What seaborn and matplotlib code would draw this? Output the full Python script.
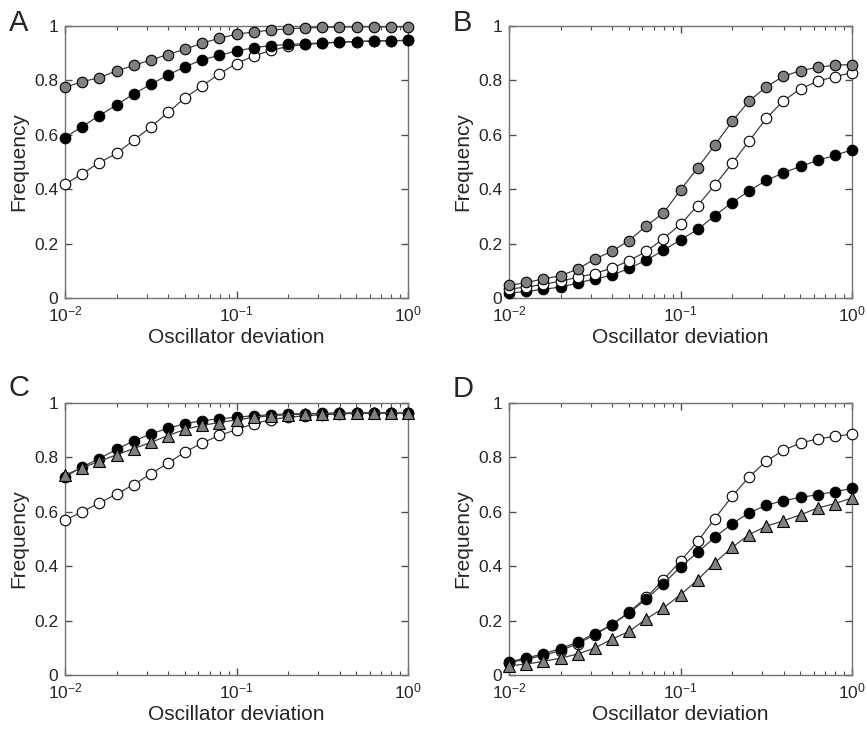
import matplotlib
matplotlib.use("Agg")
import matplotlib.pyplot as plt
import seaborn as sns
import pandas as pd

# oscillator deviation grid (log spaced, 10 points per decade)
DEVIATION = [0.01, 0.0126, 0.0158, 0.02, 0.0251, 0.0316, 0.0398, 0.0501, 0.0631, 0.0794,
             0.1, 0.126, 0.158, 0.2, 0.251, 0.316, 0.398, 0.501, 0.631, 0.794, 1.0]

# panel A
A_GRAY = [0.775, 0.795, 0.81, 0.835, 0.855, 0.875, 0.895, 0.915, 0.937, 0.955, 0.97,
          0.978, 0.985, 0.99, 0.993, 0.995, 0.996, 0.997, 0.997, 0.997, 0.997]
A_BLACK = [0.59, 0.63, 0.67, 0.71, 0.75, 0.785, 0.82, 0.85, 0.876, 0.892, 0.908,
           0.92, 0.928, 0.932, 0.935, 0.938, 0.941, 0.943, 0.945, 0.946, 0.947]
A_OPEN = [0.418, 0.457, 0.497, 0.532, 0.58, 0.628, 0.682, 0.736, 0.78, 0.824, 0.862,
          0.89, 0.91, 0.925, 0.932, 0.937, 0.94, 0.943, 0.945, 0.946, 0.947]

# panel B
B_GRAY = [0.046, 0.057, 0.07, 0.082, 0.106, 0.143, 0.172, 0.211, 0.265, 0.312, 0.397,
          0.479, 0.561, 0.649, 0.724, 0.776, 0.815, 0.836, 0.848, 0.856, 0.858]
B_OPEN = [0.033, 0.04, 0.05, 0.062, 0.076, 0.09, 0.11, 0.137, 0.171, 0.218, 0.271,
          0.34, 0.414, 0.495, 0.577, 0.66, 0.725, 0.769, 0.797, 0.814, 0.828]
B_BLACK = [0.018, 0.024, 0.032, 0.04, 0.055, 0.07, 0.084, 0.109, 0.139, 0.175, 0.214,
           0.252, 0.302, 0.351, 0.394, 0.432, 0.46, 0.484, 0.506, 0.524, 0.545]

# panel C
C_BLACK = [0.728, 0.765, 0.795, 0.83, 0.86, 0.886, 0.907, 0.924, 0.935, 0.942, 0.948,
           0.953, 0.957, 0.96, 0.961, 0.962, 0.963, 0.963, 0.964, 0.964, 0.964]
C_TRI = [0.735, 0.762, 0.785, 0.81, 0.832, 0.855, 0.88, 0.903, 0.918, 0.928, 0.938,
         0.947, 0.953, 0.957, 0.96, 0.961, 0.962, 0.963, 0.963, 0.964, 0.964]
C_OPEN = [0.569, 0.6, 0.632, 0.665, 0.7, 0.739, 0.779, 0.82, 0.853, 0.881, 0.902,
          0.924, 0.939, 0.948, 0.953, 0.957, 0.96, 0.962, 0.963, 0.964, 0.964]

# panel D
D_OPEN = [0.045, 0.058, 0.072, 0.09, 0.115, 0.148, 0.185, 0.232, 0.285, 0.35, 0.419,
          0.491, 0.574, 0.657, 0.728, 0.786, 0.826, 0.853, 0.868, 0.877, 0.886]
D_BLACK = [0.049, 0.062, 0.078, 0.097, 0.121, 0.152, 0.185, 0.228, 0.279, 0.336, 0.397,
           0.451, 0.506, 0.556, 0.596, 0.624, 0.641, 0.653, 0.663, 0.674, 0.686]
D_TRI = [0.034, 0.04, 0.05, 0.062, 0.077, 0.099, 0.132, 0.16, 0.206, 0.246, 0.295,
         0.35, 0.412, 0.469, 0.516, 0.547, 0.567, 0.589, 0.614, 0.63, 0.651]

YTICKS = [0, 0.2, 0.4, 0.6, 0.8, 1]
YTICKLABELS = ["0", "0.2", "0.4", "0.6", "0.8", "1"]

GRAY = "#808080"
STYLES = {
    "gray": dict(marker="o", markerfacecolor=GRAY, markersize=7.6),
    "black": dict(marker="o", markerfacecolor="black", markersize=7.6),
    "open": dict(marker="o", markerfacecolor="white", markersize=7.6),
    "tri": dict(marker="^", markerfacecolor=GRAY, markersize=8.5),
}

sns.set_style("ticks")
plt.rcParams["font.family"] = ["Liberation Sans", "DejaVu Sans"]
plt.rcParams["mathtext.default"] = "regular"

fig = plt.figure(figsize=(8.67, 7.32), dpi=100)
W, H = 343 / 867, 272 / 732
positions = {
    "A": [65 / 867, 1 - 298 / 732, W, H],
    "B": [509 / 867, 1 - 298 / 732, W, H],
    "C": [65 / 867, 1 - 675 / 732, W, H],
    "D": [509 / 867, 1 - 675 / 732, W, H],
}
panels = {
    "A": [("open", A_OPEN), ("black", A_BLACK), ("gray", A_GRAY)],
    "B": [("black", B_BLACK), ("open", B_OPEN), ("gray", B_GRAY)],
    "C": [("open", C_OPEN), ("black", C_BLACK), ("tri", C_TRI)],
    "D": [("open", D_OPEN), ("black", D_BLACK), ("tri", D_TRI)],
}
letter_y = {"A": 1.01, "B": 1.01, "C": 1.055, "D": 1.052}

for name, series in panels.items():
    ax = fig.add_axes(positions[name])
    for z, (kind, vals) in enumerate(series):
        df = pd.DataFrame({"x": DEVIATION, "y": vals})
        sns.lineplot(data=df, x="x", y="y", ax=ax, color="0.25", lw=0.9,
                     markeredgecolor="black", markeredgewidth=0.8,
                     clip_on=False, zorder=3 + z, **STYLES[kind])
    ax.set_xscale("log")
    ax.set_xlim(0.01, 1)
    ax.set_ylim(0, 1)
    ax.set_yticks(YTICKS)
    ax.set_yticklabels(YTICKLABELS)
    ax.set_xticks([0.01, 0.1, 1])
    ax.set_xticklabels([r"$10^{-2}$", r"$10^{-1}$", r"$10^{0}$"])
    ax.tick_params(which="both", direction="in", top=True, right=True,
                   color="0.3", labelsize=12.5, pad=5)
    ax.tick_params(which="major", length=5, width=1.0)
    ax.tick_params(which="minor", length=3, width=0.8)
    for sp in ax.spines.values():
        sp.set_color("0.45")
        sp.set_linewidth(1.0)
    ax.set_xlabel("Oscillator deviation", fontsize=15, labelpad=2)
    ax.set_ylabel("Frequency", fontsize=15, labelpad=4)
    ax.text(-0.135, letter_y[name], name, transform=ax.transAxes,
            fontsize=21, ha="center", va="center")

fig.savefig("out.png", dpi=100)
